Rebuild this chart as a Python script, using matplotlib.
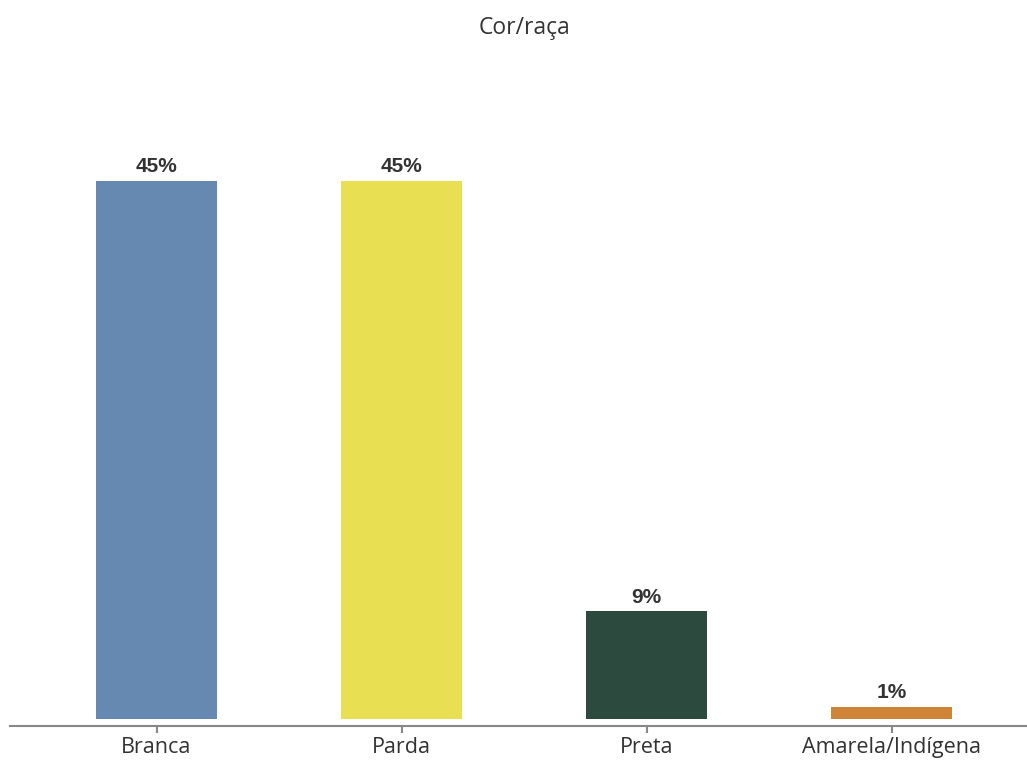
import matplotlib
matplotlib.use('Agg')
from matplotlib import pyplot as plt

# data
categories = ['Branca', 'Parda', 'Preta', 'Amarela/Indígena']
values = [45, 45, 9, 1]
labels = ['45%', '45%', '9%', '1%']
colors = ['#6689B1', '#E9DF52', '#2D4A3F', '#D08437']

fig = plt.figure(figsize=(10.27, 7.6), dpi=100)
ax = fig.add_axes([10/1027, 1 - 719/760, 1 - 10/1027, (719 - 121)/760])

x = list(range(len(categories)))
bars = ax.bar(x, values, width=0.495, color=colors)

for b, lab in zip(bars, labels):
    ax.text(b.get_x() + b.get_width()/2, b.get_height() + 0.4, lab,
            ha='center', va='bottom', fontsize=15, fontweight='bold',
            family='Liberation Sans', color='#333333')

ax.set_xlim(-0.598, 3.553)
ax.set_ylim(0, 50)
ax.set_xticks(x, labels=categories)
for s in ['top', 'right', 'left']:
    ax.spines[s].set_visible(False)
ax.spines['bottom'].set_position(('outward', 5))
ax.spines['bottom'].set_color('#888888')
ax.spines['bottom'].set_linewidth(1.5)
ax.set_yticks([])
ax.tick_params(axis='x', colors='#888888', length=5, width=1.5, pad=3)
for t in ax.get_xticklabels():
    t.set_color('#333333')
    t.set_fontsize(15.5)
    t.set_family('Open Sans')

fig.text(524/1027, 1 - 28/760, 'Cor/raça', ha='center', va='center',
         fontsize=16.5, family='Open Sans', color='#333333')

fig.savefig('out.png', dpi=100)
